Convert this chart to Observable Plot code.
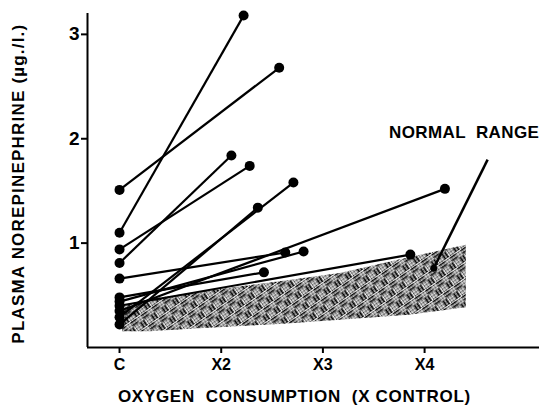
<!DOCTYPE html>
<html>
<head>
<meta charset="utf-8">
<script src="https://cdn.jsdelivr.net/npm/d3@7"></script>
<script src="https://cdn.jsdelivr.net/npm/@observablehq/plot@0.6"></script>
<style>
  html, body { margin: 0; padding: 0; background: #fff; }
  svg { display: block; }
</style>
</head>
<body>
<div id="chart"></div>
<script>
// Subjects: control value (at "C" = 1x) and value during exercise
const startY = [1.51, 1.10, 0.94, 0.81, 0.66, 0.48, 0.44, 0.40, 0.35, 0.29, 0.22];
const endX   = [2.57, 2.22, 2.28, 2.10, 2.63, 2.42, 2.81, 3.86, 4.20, 2.71, 2.36];
const endY   = [2.68, 3.18, 1.74, 1.84, 0.91, 0.72, 0.92, 0.89, 1.52, 1.58, 1.34];

// Normal range band
const bandX    = [1.03, 1.30, 1.79, 2.58, 3.17, 3.85, 4.41];
const bandLow  = [0.15, 0.15, 0.18, 0.22, 0.26, 0.31, 0.38];
const bandHigh = [0.40, 0.46, 0.53, 0.63, 0.71, 0.86, 0.98];

// Axis ticks
const xTicks = [1, 2, 3, 4];
const xTickLabels = ["C", "X2", "X3", "X4"];
const yTicks = [1, 2, 3];

// Texts
const noteText = "NORMAL  RANGE";
const xTitle = "OXYGEN  CONSUMPTION  (X CONTROL)";
const yTitle = "PLASMA NOREPINEPHRINE (µg./l.)";
const notePos = {x: 3.65, y: 2.06};
const pointer = {x1: 4.62, y1: 1.80, x2: 4.09, y2: 0.76};

const subjects = startY.map((s, i) => ({x1: 1, y1: s, x2: endX[i], y2: endY[i]}));
const band = bandX.map((x, i) => ({x, y1: bandLow[i], y2: bandHigh[i]}));
const dots = subjects.flatMap(d => [{x: d.x1, y: d.y1}, {x: d.x2, y: d.y2}]);

const font = "'Liberation Sans', Arial, sans-serif";

const chart = Plot.plot({
  width: 539,
  height: 406,
  marginLeft: 87,
  marginRight: 0,
  marginTop: 13,
  marginBottom: 59,
  style: {fontFamily: font, fontWeight: "bold", color: "#000", background: "#fff"},
  x: {domain: [0.685, 5.13]},
  y: {domain: [0, 3.2]},
  marks: [
    Plot.areaY(band, {x: "x", y1: "y1", y2: "y2", fill: "url(#weave)", curve: "linear"}),
    Plot.link(subjects, {x1: "x1", y1: "y1", x2: "x2", y2: "y2", stroke: "#000", strokeWidth: 2.2}),
    Plot.dot(dots, {x: "x", y: "y", r: 5, fill: "#000", stroke: "none"}),
    Plot.link([pointer], {x1: "x1", y1: "y1", x2: "x2", y2: "y2", stroke: "#000", strokeWidth: 2.5}),
    Plot.dot([pointer], {x: "x2", y: "y2", r: 3.5, fill: "#000"}),
    Plot.text([noteText], {x: notePos.x, y: notePos.y, text: d => d, textAnchor: "start", fontSize: 17, fontWeight: "bold", fill: "#000"}),
    Plot.ruleX([0.685], {stroke: "#000", strokeWidth: 2}),
    Plot.ruleY([0], {stroke: "#000", strokeWidth: 2}),
    Plot.axisY(yTicks, {tickSize: 6, tickPadding: 2, fontSize: 19, fontWeight: "bold", label: null, strokeWidth: 2, tickFormat: "d"}),
    Plot.axisX(xTicks, {tickSize: 6, tickPadding: 5, fontSize: 16, fontWeight: "bold", label: null, strokeWidth: 2, tickFormat: d => xTickLabels[xTicks.indexOf(d)]}),
    Plot.text([xTitle], {x: 2.72, frameAnchor: "bottom", dy: 54, text: d => d, fontSize: 17, fontWeight: "bold", fill: "#000"}),
    Plot.text([yTitle], {y: 1.57, frameAnchor: "left", textAnchor: "middle", dx: -69, rotate: -90, text: d => d, fontSize: 17, fontWeight: "bold", fill: "#000"})
  ]
});

const svg = chart.tagName.toLowerCase() === "svg" ? chart : chart.querySelector("svg");

// letter spacing for the wide, typewriter-like labels
const spacing = new Map([[noteText, "0.4px"], [xTitle, "0.7px"], [yTitle, "1.2px"]]);
svg.querySelectorAll("text").forEach(t => {
  const s = spacing.get(t.textContent);
  if (s) { t.style.letterSpacing = s; t.style.whiteSpace = "pre"; }
});

// pattern definitions for the hatched normal range band
const ns = "http://www.w3.org/2000/svg";
const defs = document.createElementNS(ns, "defs");
defs.innerHTML = `
  <pattern id="dots" width="2.8" height="2.8" patternUnits="userSpaceOnUse">
    <rect width="2.8" height="2.8" fill="#fff"/>
    <circle cx="1.4" cy="1.4" r="1.0" fill="#000"/>
  </pattern>
  <pattern id="weave" width="13" height="13" patternUnits="userSpaceOnUse" patternTransform="rotate(-35)">
    <rect width="13" height="13" fill="url(#dots)"/>
    <rect x="0" y="1" width="6.5" height="1.4" fill="#000"/>
    <rect x="0" y="4.2" width="6.5" height="1.4" fill="#000"/>
    <rect x="7.6" y="6.5" width="1.4" height="6.5" fill="#000"/>
    <rect x="10.8" y="6.5" width="1.4" height="6.5" fill="#000"/>
    <rect x="6.5" y="0" width="6.5" height="0.9" fill="#fff"/>
    <rect x="0" y="7.5" width="0.9" height="5.5" fill="#fff"/>
  </pattern>`;
svg.insertBefore(defs, svg.firstChild);

document.getElementById("chart").appendChild(chart);
</script>
</body>
</html>
